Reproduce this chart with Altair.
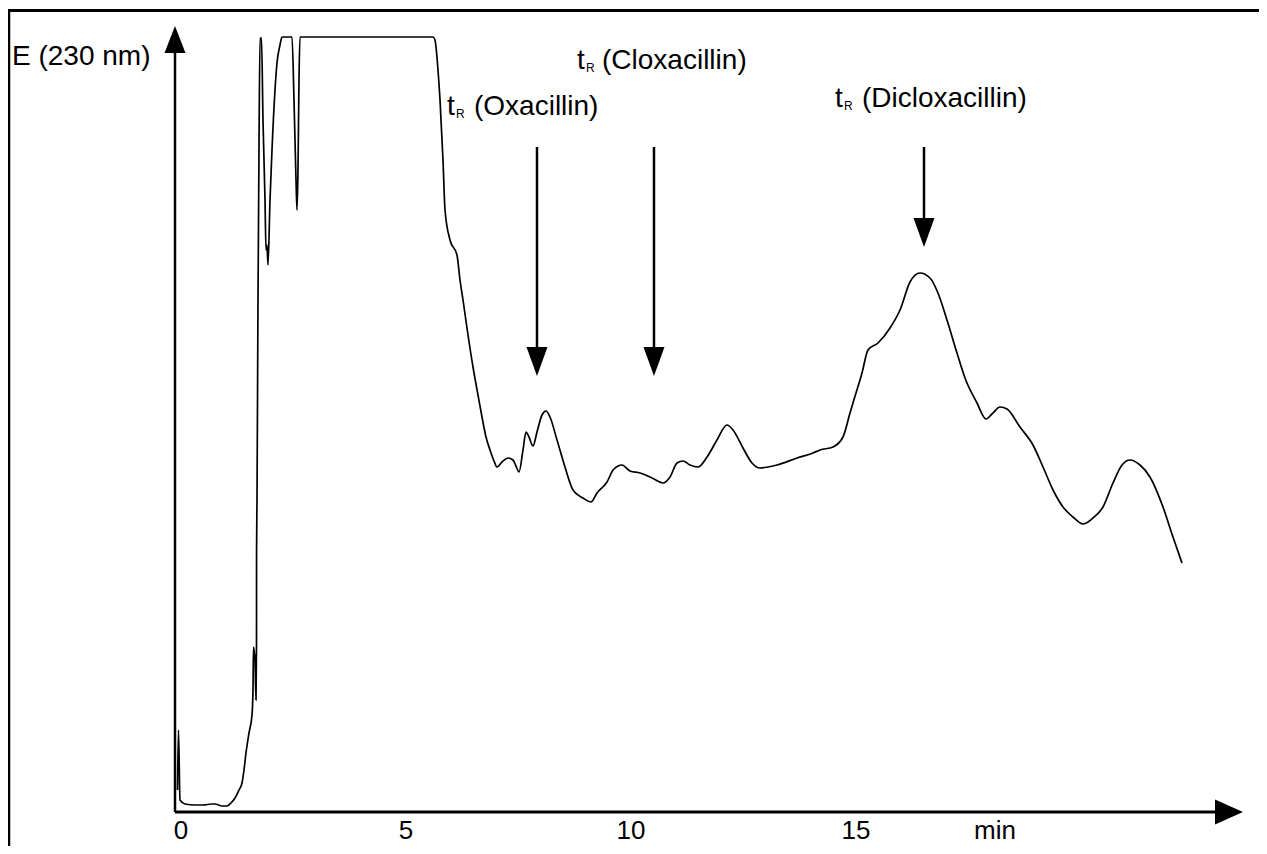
import altair as alt
import pandas as pd

# ---- chromatogram trace (time in min, absorbance E in arbitrary units) ----
time_min = [-0.078, -0.056, -0.022, 0.089, 0.311, 0.489, 0.689, 0.756, 0.911, 1.022,
            1.111, 1.2, 1.289, 1.356, 1.4, 1.444, 1.511, 1.578, 1.6, 1.611,
            1.644, 1.667, 1.678, 1.679, 1.689, 1.711, 1.733, 1.756, 1.789, 1.822,
            1.867, 1.889, 1.911, 1.933, 1.978, 2.022, 2.089, 2.133, 2.2, 2.244,
            2.467, 2.511, 2.556, 2.578, 2.6, 2.622, 2.644, 5.6, 5.644, 5.711,
            5.756, 5.822, 5.867, 5.978, 6.133, 6.2, 6.267, 6.378, 6.489, 6.6,
            6.689, 6.778, 6.867, 6.956, 7.022, 7.133, 7.267, 7.378, 7.444, 7.511,
            7.6, 7.667, 7.733, 7.822, 7.911, 8.022, 8.111, 8.2, 8.356, 8.533,
            8.711, 8.933, 9.111, 9.244, 9.467, 9.6, 9.711, 9.8, 9.978, 10.2,
            10.467, 10.711, 10.867, 11.022, 11.156, 11.311, 11.489, 11.689, 11.911, 12.133,
            12.267, 12.489, 12.689, 12.867, 13.244, 13.689, 14.044, 14.2, 14.489, 14.711,
            14.867, 14.933, 15.133, 15.267, 15.489, 15.756, 15.978, 16.2, 16.422, 16.644,
            16.822, 17.022, 17.244, 17.422, 17.689, 17.889, 18.022, 18.2, 18.356, 18.644,
            18.933, 19.156, 19.378, 19.6, 19.822, 20.044, 20.267, 20.489, 20.711, 20.911,
            21.089, 21.311, 21.533, 21.822, 22.044, 22.244]
absorbance = [22, 82, 12, 8, 7, 7, 8, 8, 6, 6,
              9, 14, 22, 29, 42, 59, 79, 97, 122, 165,
              152, 112, 167, 259, 312, 512, 662, 774, 774, 692,
              612, 562, 567, 547, 612, 662, 722, 749, 767, 775,
              775, 712, 632, 602, 642, 732, 775, 775, 772, 742,
              712, 652, 602, 572, 557, 532, 512, 477, 445, 417,
              395, 375, 362, 351, 345, 350, 354, 352, 346, 340,
              362, 380, 375, 366, 380, 397, 401, 395, 372, 345,
              322, 314, 310, 319, 330, 342, 346, 347, 341, 339,
              334, 329, 335, 349, 351, 347, 345, 355, 372, 387,
              382, 364, 349, 344, 347, 354, 359, 362, 365, 375,
              399, 409, 439, 462, 469, 484, 502, 530, 539, 534,
              519, 492, 459, 434, 409, 393, 398, 405, 403, 385,
              367, 345, 322, 305, 295, 288, 294, 305, 329, 347,
              352, 347, 335, 305, 275, 249]

# ---- axis ticks ----
tick_values = [0, 5, 10, 15]
tick_labels = ["0", "5", "10", "15"]

# ---- retention-time annotations ----
compounds = ["(Oxacillin)", "(Cloxacillin)", "(Dicloxacillin)"]
arrow_times = [7.911, 10.511, 16.511]
arrow_tops = [665, 665, 665]
arrow_ends = [465, 465, 594]
arrow_heads = [450.5, 450.5, 579.5]
t_left = [5.911, 8.8, 14.533]
sub_left = [6.111, 9.0, 14.733]
name_left = [6.511, 9.356, 15.133]
label_base = [697, 743, 705]

X_MIN, X_MAX = -3.8444, 23.9556
Y_MIN, Y_MAX = -34, 804

FONT = "Liberation Sans"

xs = alt.Scale(domain=[X_MIN, X_MAX], nice=False, zero=False)
ys = alt.Scale(domain=[Y_MIN, Y_MAX], nice=False, zero=False)


def X(f):
    return alt.X(f, type="quantitative", scale=xs, axis=None)


def Y(f):
    return alt.Y(f, type="quantitative", scale=ys, axis=None)


trace = pd.DataFrame({"t": time_min, "E": absorbance, "i": list(range(len(time_min)))})
line = alt.Chart(trace).mark_line(color="black", strokeWidth=1.7, interpolate="monotone").encode(
    x=X("t"), y=Y("E"), order=alt.Order("i:Q"))

# frame and axes lines
rules_df = pd.DataFrame({
    "t": [X_MIN, -3.822, -0.1333, -0.1333],
    "t2": [X_MAX, -3.822, -0.1333, 23.0],
    "E": [801.5, Y_MIN, 0, 0],
    "E2": [801.5, 801.5, 762, 0],
    "w": [3, 2.5, 2.5, 3],
})
rules = alt.Chart(rules_df).mark_rule(color="black").encode(
    x=X("t"), x2="t2", y=Y("E"), y2="E2",
    strokeWidth=alt.StrokeWidth("w:Q", scale=None))

shape_up = "M0,-1.29L1,1.29L-1,1.29Z"
shape_right = "M1.12,0L-1.12,-1L-1.12,1Z"
shape_down = "M0,1.38L1,-1.38L-1,-1.38Z"

up_head = alt.Chart(pd.DataFrame({"t": [-0.1333], "E": [772.5]})).mark_point(
    shape=shape_up, size=441, filled=True, color="black", opacity=1, strokeWidth=0
).encode(x=X("t"), y=Y("E"))
right_head = alt.Chart(pd.DataFrame({"t": [23.289], "E": [0]})).mark_point(
    shape=shape_right, size=625, filled=True, color="black", opacity=1, strokeWidth=0
).encode(x=X("t"), y=Y("E"))

ann = pd.DataFrame({"t": arrow_times, "top": arrow_tops, "end": arrow_ends,
                    "head": arrow_heads})
shafts = alt.Chart(ann).mark_rule(color="black", strokeWidth=2.5).encode(
    x=X("t"), y=Y("top"), y2="end")
down_heads = alt.Chart(ann).mark_point(
    shape=shape_down, size=441, filled=True, color="black", opacity=1, strokeWidth=0
).encode(x=X("t"), y=Y("head"))

labels = pd.DataFrame({"tl": t_left, "sl": sub_left, "nl": name_left,
                       "b": label_base, "name": compounds})
labels["sb"] = labels["b"] - 3
t_text = alt.Chart(labels).mark_text(
    text="t", align="left", baseline="alphabetic", font=FONT, fontSize=28, color="black"
).encode(x=X("tl"), y=Y("b"))
r_text = alt.Chart(labels).mark_text(
    text="R", align="left", baseline="alphabetic", font=FONT, fontSize=12, color="black"
).encode(x=X("sl"), y=Y("sb"))
name_text = alt.Chart(labels).mark_text(
    align="left", baseline="alphabetic", font=FONT, fontSize=28, color="black"
).encode(x=X("nl"), y=Y("b"), text="name:N")

ticks = pd.DataFrame({"t": tick_values + [18.09], "lab": tick_labels + ["min"],
                      "E": [-27] * 5})
tick_text = alt.Chart(ticks).mark_text(
    align="center", baseline="alphabetic", font=FONT, fontSize=26, color="black"
).encode(x=X("t"), y=Y("E"), text="lab:N")

ylabel = alt.Chart(pd.DataFrame({"t": [-3.756], "E": [747], "lab": ["E (230 nm)"]})).mark_text(
    align="left", baseline="alphabetic", font=FONT, fontSize=28, color="black"
).encode(x=X("t"), y=Y("E"), text="lab:N")

chart = alt.layer(
    rules, line, up_head, right_head, shafts, down_heads,
    t_text, r_text, name_text, tick_text, ylabel
).properties(
    width=1251, height=838,
    autosize=alt.AutoSizeParams(type="none"),
    padding=0, background="white"
).configure_view(stroke=None)

chart.save("out.html", embed_options={"renderer": "svg", "actions": False})
